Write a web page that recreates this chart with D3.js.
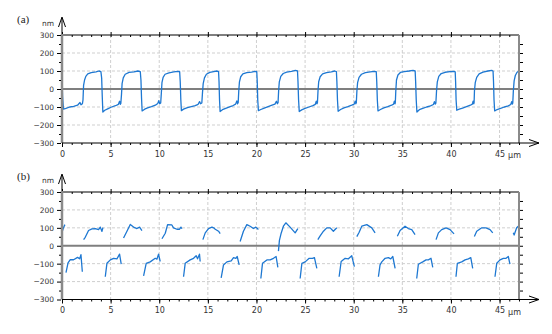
<!DOCTYPE html>
<html>
<head>
<meta charset="utf-8">
<script src="https://cdn.jsdelivr.net/npm/d3@7"></script>
<style>
  body { margin: 0; background: #fff; }
  .canvas svg { display: block; }
  text { font-family: "DejaVu Sans", sans-serif; fill: #333; }
  text.panel { font-family: "Liberation Serif", "DejaVu Serif", serif; fill: #222; }
</style>
</head>
<body>
<div class="canvas"></div>
<script>
const width = 552;
const height = 334;

// tick labels
const yTicks = [-300, -200, -100, 0, 100, 200, 300];
const yMinor = [-250, -150, -50, 50, 150, 250];
const xTicks = [0, 5, 10, 15, 20, 25, 30, 35, 40, 45];
const xMinor = d3.range(0, 48, 1);

// (a) continuous profile, [um, nm]
const profileA = [
  [0, 60], [0.06, -40], [0.15, -112], [0.4, -108], [0.8, -100], [1.2, -96], [1.6, -90], [1.85, -75], [1.95, -88], [2.1, -82],
  [2.16, -60], [2.22, 20], [2.32, 50], [2.45, 70], [2.65, 84], [3.0, 91], [3.5, 95], [3.8, 100], [4.0, 97], [4.08, 60],
  [4.14, -40], [4.2, -128], [4.4, -118], [4.7, -110], [5.1, -100], [5.5, -93], [5.8, -85], [5.92, -68], [6.0, -85], [6.05, -80],
  [6.12, -30], [6.18, 30], [6.3, 62], [6.5, 82], [6.9, 92], [7.4, 95], [7.8, 100], [8.05, 97], [8.12, 50],
  [8.18, -50], [8.24, -122], [8.5, -112], [8.8, -105], [9.2, -98], [9.6, -90], [9.85, -80], [9.95, -65], [10.05, -82], [10.15, -78],
  [10.22, -20], [10.28, 35], [10.4, 65], [10.6, 82], [11.0, 90], [11.5, 95], [11.9, 98], [12.1, 96], [12.16, 40],
  [12.22, -60], [12.28, -120], [12.5, -112], [12.9, -104], [13.3, -98], [13.7, -92], [14.0, -85], [14.15, -70], [14.25, -82], [14.38, -78],
  [14.45, -20], [14.52, 30], [14.65, 62], [14.85, 82], [15.2, 92], [15.6, 97], [15.9, 100], [16.1, 97], [16.15, 40],
  [16.2, -60], [16.26, -125], [16.5, -115], [16.9, -106], [17.3, -98], [17.6, -92], [17.85, -84], [17.98, -66], [18.05, -82], [18.12, -76],
  [18.18, -10], [18.25, 40], [18.38, 68], [18.6, 84], [19.0, 91], [19.5, 94], [19.85, 98], [20.03, 96], [20.08, 40],
  [20.13, -60], [20.2, -120], [20.45, -114], [20.8, -106], [21.2, -98], [21.6, -90], [21.9, -84], [22.05, -68], [22.15, -82], [22.22, -76],
  [22.28, -10], [22.35, 40], [22.5, 70], [22.75, 86], [23.1, 94], [23.6, 98], [24.0, 103], [24.22, 100], [24.27, 40],
  [24.33, -60], [24.4, -125], [24.65, -116], [25.0, -108], [25.4, -100], [25.8, -92], [26.05, -85], [26.15, -68], [26.22, -82], [26.27, -76],
  [26.33, -10], [26.4, 40], [26.55, 68], [26.8, 84], [27.2, 91], [27.7, 95], [28.05, 100], [28.22, 97], [28.27, 40],
  [28.33, -60], [28.4, -124], [28.65, -114], [29.0, -105], [29.4, -98], [29.8, -90], [30.05, -84], [30.15, -68], [30.22, -82], [30.27, -76],
  [30.33, -10], [30.4, 35], [30.55, 65], [30.8, 82], [31.2, 91], [31.7, 95], [32.1, 98], [32.32, 96], [32.37, 40],
  [32.43, -60], [32.5, -122], [32.75, -114], [33.1, -105], [33.5, -98], [33.9, -90], [34.1, -84], [34.18, -68], [34.25, -82], [34.28, -76],
  [34.33, -10], [34.4, 50], [34.55, 78], [34.8, 92], [35.2, 97], [35.7, 100], [36.1, 103], [36.32, 100], [36.37, 40],
  [36.43, -60], [36.5, -128], [36.75, -115], [37.1, -108], [37.5, -100], [37.9, -94], [38.2, -86], [38.3, -70], [38.38, -84], [38.45, -78],
  [38.52, -10], [38.6, 40], [38.75, 70], [39.0, 86], [39.4, 93], [39.9, 96], [40.3, 98], [40.44, 95], [40.48, 40],
  [40.53, -60], [40.6, -118], [40.85, -112], [41.2, -106], [41.6, -98], [42.0, -90], [42.2, -84], [42.28, -68], [42.35, -82], [42.38, -76],
  [42.42, -10], [42.5, 35], [42.65, 65], [42.9, 84], [43.3, 94], [43.8, 100], [44.2, 103], [44.33, 100], [44.38, 40],
  [44.43, -60], [44.5, -122], [44.75, -114], [45.1, -108], [45.5, -100], [45.9, -94], [46.15, -86], [46.25, -70], [46.32, -84], [46.36, -78],
  [46.42, -10], [46.5, 45], [46.62, 75], [46.8, 93], [47.0, 100]
];

// (b) upper pieces (on the ridges)
const upperB = [
  [[0, 75], [0.15, 100], [0.3, 118]],
  [[2.22, 34], [2.39, 47], [2.73, 85], [3.08, 94], [3.42, 96], [3.76, 90], [3.94, 104], [4.11, 80], [4.21, 101]],
  [[6.33, 43], [6.68, 81], [7.02, 119], [7.36, 104], [7.71, 96], [7.98, 104], [8.22, 85]],
  [[10.28, 39], [10.62, 70], [10.86, 118], [11.3, 116], [11.47, 100], [11.82, 92], [12.09, 92], [12.23, 104], [12.33, 95]],
  [[14.49, 34], [14.73, 72], [15.07, 96], [15.42, 104], [15.6, 100], [15.76, 92], [16.1, 81], [16.27, 68]],
  [[18.32, 24], [18.66, 81], [19.01, 118], [19.35, 109], [19.69, 96], [19.94, 104], [20.2, 91]],
  [[22.26, -30], [22.36, 30], [22.54, 70], [22.77, 109], [23.02, 128], [23.46, 104], [23.98, 72], [24.25, 96]],
  [[26.31, 34], [26.55, 55], [26.89, 81], [27.23, 100], [27.58, 100], [27.91, 81], [28.26, 100]],
  [[30.32, 51], [30.56, 75], [30.83, 109], [31.35, 118], [31.86, 100], [32.2, 72]],
  [[34.49, 53], [34.77, 85], [35.28, 109], [35.62, 96], [35.97, 90], [36.31, 62]],
  [[38.47, 34], [38.71, 72], [39.05, 90], [39.5, 100], [39.91, 90], [40.32, 66]],
  [[42.41, 51], [42.65, 81], [43.17, 100], [43.61, 100], [44.02, 90], [44.3, 72]],
  [[46.41, 72], [46.5, 60], [46.76, 100], [46.93, 109]]
];

// (b) lower pieces (in the grooves)
const lowerB = [
  [[0.41, -150], [0.62, -96], [0.85, -78], [1.19, -78], [1.6, -65], [1.81, -73], [1.95, -50], [2.09, -145]],
  [[4.45, -173], [4.62, -98], [4.97, -79], [5.31, -70], [5.65, -73], [5.92, -47], [6.09, -103]],
  [[8.39, -168], [8.66, -98], [9.07, -90], [9.59, -70], [9.76, -75], [9.93, -47], [10.1, -88]],
  [[12.5, -173], [12.67, -98], [13.18, -79], [13.53, -70], [13.8, -56], [13.94, -73], [14.14, -47], [14.21, -88]],
  [[16.37, -179], [16.61, -107], [16.96, -90], [17.4, -85], [17.64, -66], [17.88, -70], [18.02, -60], [18.22, -107]],
  [[20.45, -183], [20.62, -98], [21.07, -79], [21.41, -79], [21.75, -70], [22.02, -60], [22.2, -121]],
  [[24.49, -183], [24.67, -98], [25.01, -90], [25.42, -70], [25.76, -70], [25.96, -66], [26.21, -126]],
  [[28.5, -173], [28.71, -88], [29.12, -70], [29.46, -73], [29.8, -56], [30.07, -117]],
  [[32.54, -173], [32.71, -107], [32.89, -90], [33.23, -70], [33.57, -66], [33.81, -73], [34.02, -60], [34.26, -126]],
  [[36.48, -183], [36.65, -103], [37.1, -90], [37.44, -79], [37.68, -79], [37.95, -70], [38.13, -121]],
  [[40.52, -173], [40.66, -98], [41.11, -90], [41.45, -79], [41.79, -73], [42.04, -66], [42.24, -126]],
  [[44.53, -173], [44.71, -98], [45.05, -79], [45.39, -70], [45.67, -70], [45.9, -60], [46.07, -103]]
];

const lineColor = "#1e78d2";

const svg = d3.select(".canvas")
  .append("svg")
  .attr("width", width)
  .attr("height", height);

const xScale = d3.scaleLinear().domain([0, 47]).range([62, 519]);

function drawPanel(name, top, bottom, series) {
  const yScale = d3.scaleLinear().domain([-300, 300]).range([bottom, top]);
  const g = svg.append("g");
  const left = xScale.range()[0];
  const right = xScale.range()[1];

  // grid
  g.append("g")
    .selectAll("line")
    .data(yTicks.filter(d => d !== 0 && Math.abs(d) !== 300))
    .enter()
    .append("line")
    .attr("x1", left).attr("x2", right)
    .attr("y1", d => yScale(d)).attr("y2", d => yScale(d))
    .attr("stroke", "#cfcfcf").attr("stroke-dasharray", "3,2");

  g.append("g")
    .selectAll("line")
    .data(xTicks.filter(d => d !== 0))
    .enter()
    .append("line")
    .attr("x1", d => xScale(d)).attr("x2", d => xScale(d))
    .attr("y1", top).attr("y2", bottom)
    .attr("stroke", "#cfcfcf").attr("stroke-dasharray", "3,2");

  // zero line
  g.append("line")
    .attr("x1", left).attr("x2", right)
    .attr("y1", yScale(0)).attr("y2", yScale(0))
    .attr("stroke", "#7f7f7f").attr("stroke-width", 2);

  // data
  const clipId = "clip-" + name;
  svg.append("clipPath").attr("id", clipId)
    .append("rect")
    .attr("x", left).attr("y", top)
    .attr("width", right - left).attr("height", bottom - top);

  const line = d3.line().x(d => xScale(d[0])).y(d => yScale(d[1]));
  g.append("g")
    .attr("clip-path", `url(#${clipId})`)
    .selectAll("path")
    .data(series)
    .enter()
    .append("path")
    .attr("d", line)
    .attr("fill", "none")
    .attr("stroke", lineColor)
    .attr("stroke-width", 1.3)
    .attr("stroke-linejoin", "round");

  // top frame with ticks
  g.append("line")
    .attr("x1", left).attr("x2", right)
    .attr("y1", top).attr("y2", top)
    .attr("stroke", "#000");
  g.append("g")
    .attr("transform", `translate(0, ${top})`)
    .call(d3.axisBottom(xScale).tickValues(xMinor).tickSize(2).tickFormat(""))
    .call(a => a.select(".domain").remove());
  g.append("g")
    .attr("transform", `translate(0, ${top})`)
    .call(d3.axisTop(xScale).tickValues(xTicks).tickSize(3).tickFormat(""))
    .call(a => a.select(".domain").remove());

  // right frame
  g.append("line")
    .attr("x1", right).attr("x2", right)
    .attr("y1", top).attr("y2", bottom)
    .attr("stroke", "#8a8a8a").attr("stroke-width", 2);
  g.append("g")
    .attr("transform", `translate(${right + 1}, 0)`)
    .call(d3.axisRight(yScale).tickValues(yTicks.concat(yMinor).filter(d => Math.abs(d) !== 300)).tickSize(3).tickFormat(""))
    .call(a => a.select(".domain").remove());

  // left axis
  g.append("line")
    .attr("x1", left).attr("x2", left)
    .attr("y1", top - 17).attr("y2", top)
    .attr("stroke", "#000");
  g.append("path")
    .attr("d", `M${left - 3.5},${top - 8} L${left},${top - 18} L${left + 3.5},${top - 8}`)
    .attr("fill", "none").attr("stroke", "#000");
  g.append("line")
    .attr("x1", left).attr("x2", left)
    .attr("y1", top - 1).attr("y2", bottom)
    .attr("stroke", "#8a8a8a").attr("stroke-width", 2.5);

  const yAxis = g.append("g")
    .attr("transform", `translate(${left - 1}, 0)`)
    .call(d3.axisLeft(yScale).tickValues(yTicks).tickSize(4).tickPadding(3))
    .call(a => a.select(".domain").remove());
  yAxis.selectAll("text")
    .style("font-size", "7.5px")
    .attr("fill", "#333");
  g.append("g")
    .attr("transform", `translate(${left - 1}, 0)`)
    .call(d3.axisLeft(yScale).tickValues(yMinor).tickSize(2).tickFormat(""))
    .call(a => a.select(".domain").remove());

  // bottom axis
  g.append("line")
    .attr("x1", left).attr("x2", 539)
    .attr("y1", bottom).attr("y2", bottom)
    .attr("stroke", "#000");
  g.append("path")
    .attr("d", `M529,${bottom - 3.5} L539,${bottom} L529,${bottom + 3.5}`)
    .attr("fill", "none").attr("stroke", "#000");

  const xAxis = g.append("g")
    .attr("transform", `translate(0, ${bottom})`)
    .call(d3.axisBottom(xScale).tickValues(xTicks).tickSize(4).tickPadding(4))
    .call(a => a.select(".domain").remove());
  xAxis.selectAll("text")
    .style("font-size", "8px")
    .attr("fill", "#333");
  g.append("g")
    .attr("transform", `translate(0, ${bottom})`)
    .call(d3.axisBottom(xScale).tickValues(xMinor).tickSize(2).tickFormat(""))
    .call(a => a.select(".domain").remove());

  g.append("text")
    .attr("x", xScale(45) + 8.5)
    .attr("y", bottom + 15)
    .style("font-size", "8px")
    .text("μm");

  // units and panel label
  g.append("text")
    .attr("x", 42)
    .attr("y", top - 9)
    .style("font-size", "7.5px")
    .text("nm");
  g.append("text")
    .attr("class", "panel")
    .attr("x", 17)
    .attr("y", top - 12)
    .style("font-size", "11px")
    .text(`(${name})`);
}

drawPanel("a", 35, 143, [profileA]);
drawPanel("b", 192, 299.5, upperB.concat(lowerB));
</script>
</body>
</html>
